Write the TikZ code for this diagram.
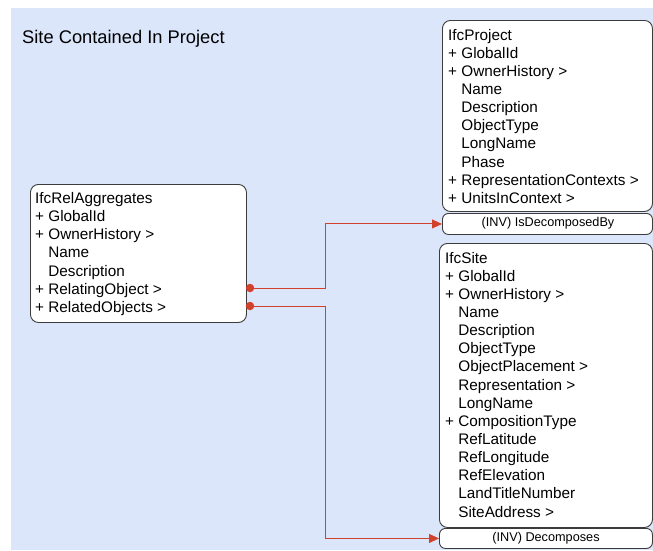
\documentclass[tikz,border=0pt]{standalone}
\usepackage{fontspec}
\setmainfont{Liberation Sans}
\usetikzlibrary{arrows.meta}
\definecolor{bgblue}{RGB}{220,230,250}
\definecolor{conred}{RGB}{208,66,44}
\definecolor{boxline}{RGB}{60,60,60}
\begin{document}
\begin{tikzpicture}[x=1pt,y=-1pt,
  entbox/.style={draw=boxline, fill=white, line width=0.9pt, rounded corners=8pt, inner sep=0pt, anchor=north west},
  invbox/.style={draw=boxline, fill=white, line width=0.9pt, rounded corners=6pt, inner sep=0pt, anchor=north west,
     font=\fontsize{12.7}{14}\selectfont},
  attr/.style={anchor=base west, inner sep=0pt, font=\fontsize{15.3}{18}\selectfont},
  dotnode/.style={circle, fill=conred, inner sep=0pt, minimum size=8.5pt},
  conn/.style={draw=conred, line width=1pt, -{Triangle[length=10pt,width=9pt]}}]
\useasboundingbox (0,0) rectangle (653,550);
\clip (0,0) rectangle (653,550);
\fill[bgblue] (11,8) rectangle (653,550);

\node[anchor=base west, inner sep=0pt, font=\fontsize{18.3}{20}\selectfont] (title) at (22,43) {Site Contained In Project};

% IfcRelAggregates
\node[entbox, minimum width=216pt, minimum height=138pt] (rel) at (30,184) {};
\foreach \t [count=\i from 0] in {IfcRelAggregates, + GlobalId, + OwnerHistory >, \phantom{+ }Name, \phantom{+ }Description, + RelatingObject >, + RelatedObjects >}
  \node[attr] (rel-\i) at (35,203.5+\i*18.15) {\t};

% IfcProject
\node[entbox, minimum width=210pt, minimum height=191pt] (proj) at (442,20) {};
\foreach \t [count=\i from 0] in {IfcProject, + GlobalId, + OwnerHistory >, \phantom{+ }Name, \phantom{+ }Description, \phantom{+ }ObjectType, \phantom{+ }LongName, \phantom{+ }Phase, + RepresentationContexts >, + UnitsInContext >}
  \node[attr] (proj-\i) at (448,40+\i*18.15) {\t};
\node[invbox, minimum width=210pt, minimum height=21pt] (inv1) at (442,213) {};
\node[inner sep=0pt, font=\fontsize{12.7}{14}\selectfont] (inv1t) at (548,223.5) {(INV) IsDecomposedBy};

% IfcSite
\node[entbox, minimum width=213pt, minimum height=284pt] (site) at (439,243) {};
\foreach \t [count=\i from 0] in {IfcSite, + GlobalId, + OwnerHistory >, \phantom{+ }Name, \phantom{+ }Description, \phantom{+ }ObjectType, \phantom{+ }ObjectPlacement >, \phantom{+ }Representation >, \phantom{+ }LongName, + CompositionType, \phantom{+ }RefLatitude, \phantom{+ }RefLongitude, \phantom{+ }RefElevation, \phantom{+ }LandTitleNumber, \phantom{+ }SiteAddress >}
  \node[attr] (site-\i) at (445,263+\i*18.15) {\t};
\node[invbox, minimum width=213pt, minimum height=20pt] (inv2) at (439,528) {};
\node[inner sep=0pt, font=\fontsize{12.7}{14}\selectfont] (inv2t) at (546,538) {(INV) Decomposes};

% connectors
\coordinate (d1p) at (250,288);
\coordinate (d2p) at (250,306);
\draw[conn] (d1p) -- ++(75,0) |- (inv1.west);
\draw[conn] (d2p) -- ++(75,0) |- (inv2.west);
\node[dotnode] (d1) at (d1p) {};
\node[dotnode] (d2) at (d2p) {};
\end{tikzpicture}
\end{document}
